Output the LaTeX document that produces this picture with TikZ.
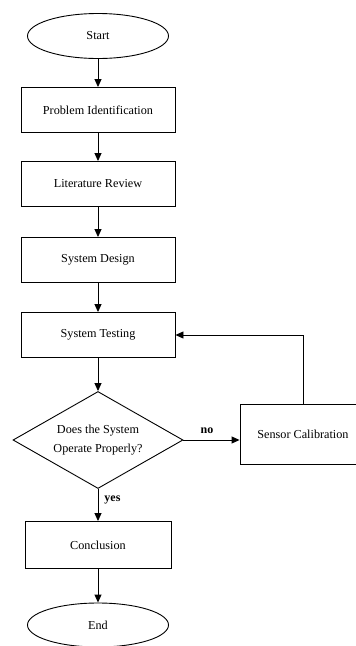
\documentclass[tikz,border=0pt]{standalone}
\usepackage{fontspec}
\setmainfont{Liberation Serif}
\usetikzlibrary{shapes.geometric,arrows.meta}
\begin{document}
\begin{tikzpicture}[x=1pt,y=-1pt,
  every node/.style={font=\fontsize{12.2}{19}\selectfont, inner sep=0pt},
  base/.style={draw=black, line width=0.9pt, fill=white},
  term/.style={base, ellipse, minimum width=141pt, minimum height=45pt},
  proc/.style={base, rectangle, minimum width=154pt, minimum height=45pt},
  dec/.style={base, diamond, aspect=1.75, minimum width=170pt, minimum height=97pt, align=center},
  lbl/.style={font=\fontsize{12}{14}\selectfont\bfseries},
  arr/.style={line width=0.9pt, -{Triangle[length=8pt,width=7pt]}}
]
\useasboundingbox (0,0) rectangle (356,646);
\fill[white] (0,0) rectangle (356,646);
\node[term] (start) at (98,36) {Start};
\node[proc] (prob) at (98,110) {Problem Identification};
\node[proc] (lit) at (98,184) {Literature Review};
\node[proc] (design) at (98,260) {System Design};
\node[proc] (test) at (98,335) {System Testing};
\node[dec] (decide) at (98,440) {Does the System\\Operate Properly?};
\node[proc, minimum width=126pt, minimum height=60pt] (sensor) at (303,434) {Sensor Calibration};
\node[proc, minimum width=146pt, minimum height=47pt] (concl) at (98,545) {Conclusion};
\node[term, minimum height=44pt] (end) at (98,625) {End};
\draw[arr] (start) -- (prob);
\draw[arr] (prob) -- (lit);
\draw[arr] (lit) -- (design);
\draw[arr] (design) -- (test);
\draw[arr] (test) -- (decide);
\draw[arr] (decide.east) -- (decide.east -| sensor.west) node[lbl, pos=0.42, above=6pt] (no) {no};
\draw[arr] (sensor.north) |- (test.east);
\draw[arr] (decide.south) -- (concl.north) node[lbl, pos=0.35, right=6pt] (yes) {yes};
\draw[arr] (concl) -- (end);
\end{tikzpicture}
\end{document}
